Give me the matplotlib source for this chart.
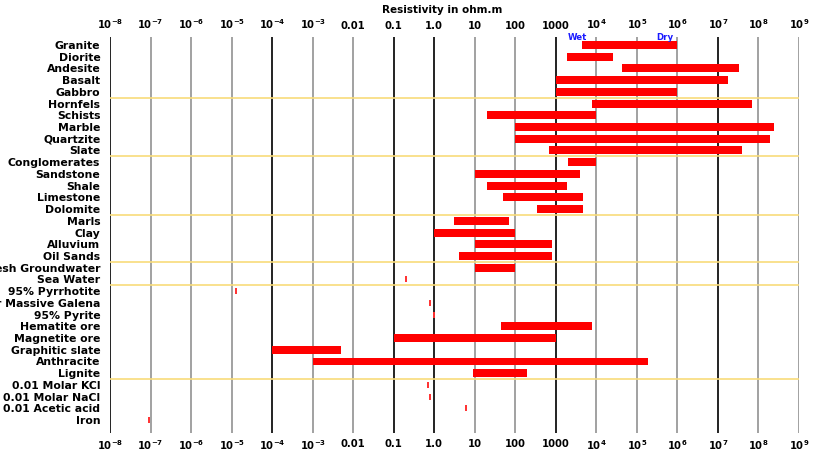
import numpy as np
import matplotlib
matplotlib.use("Agg")
import matplotlib.pyplot as plt

# rows from top to bottom
materials = [
    "Granite", "Diorite", "Andesite", "Basalt", "Gabbro",
    "Hornfels", "Schists", "Marble", "Quartzite", "Slate",
    "Conglomerates", "Sandstone", "Shale", "Limestone", "Dolomite",
    "Marls", "Clay", "Alluvium", "Oil Sands",
    "Fresh Groundwater", "Sea Water",
    "95% Pyrrhotite", "Poor Massive Galena", "95% Pyrite", "Hematite ore",
    "Magnetite ore", "Graphitic slate", "Anthracite", "Lignite",
    "0.01 Molar KCl", "0.01 Molar NaCl", "0.01 Acetic acid", "Iron",
]

# resistivity range in ohm.m (low == high means a single value)
res_low = [
    4.5e3, 1.9e3, 4.2e4, 1e3, 1e3,
    8e3, 20, 100, 100, 690,
    2e3, 10, 20, 50, 350,
    3, 1, 10, 4,
    10, 0.2,
    1.3e-5, 0.77, 0.97, 45,
    0.1, 1e-4, 1e-3, 9,
    0.7, 0.8, 6, 9e-8,
]
res_high = [
    1e6, 2.6e4, 3.4e7, 1.8e7, 1e6,
    6.8e7, 1e4, 2.4e8, 1.9e8, 3.9e7,
    1e4, 3.9e3, 1.9e3, 4.8e3, 4.8e3,
    70, 100, 800, 800,
    100, 0.2,
    1.3e-5, 0.77, 0.97, 7.7e3,
    1000, 5e-3, 1.9e5, 200,
    0.7, 0.8, 6, 9e-8,
]

# group separators (after these row indices)
group_breaks = [4, 9, 14, 18, 20, 28]

decades = list(range(-8, 10))
decade_labels = [
    r"$10^{-8}$", r"$10^{-7}$", r"$10^{-6}$", r"$10^{-5}$", r"$10^{-4}$",
    r"$10^{-3}$", "0.01", "0.1", "1.0", "10", "100", "1000",
    r"$10^{4}$", r"$10^{5}$", r"$10^{6}$", r"$10^{7}$", r"$10^{8}$", r"$10^{9}$",
]
dark_decades = [-8, -4, -1, 0, 3, 7]

plt.rcParams["font.family"] = "DejaVu Sans"
plt.rcParams["font.weight"] = "bold"
plt.rcParams["mathtext.fontset"] = "dejavusans"
plt.rcParams["mathtext.default"] = "bf"

fig = plt.figure(figsize=(8.14, 4.54), dpi=100)
ax = fig.add_axes([110 / 814, 1 - 433 / 454, 689 / 814, 396 / 454])
ax.set_xscale("log")
ax.set_xlim(1e-8, 1e9)
ax.set_ylim(33.1, -0.68)

for k in decades:
    color = "#111111" if k in dark_decades else "#9a9a9a"
    ax.axvline(10.0 ** k, color=color, lw=1.3, zorder=1)

for b in group_breaks:
    ax.axhline(b + 0.5, color="#f8dc7a", lw=1.2, zorder=1)

rows = np.arange(len(materials))
low = np.array(res_low)
high = np.array(res_high)
ranged = high > low
ax.barh(rows[ranged], high[ranged] - low[ranged], left=low[ranged],
        height=0.68, color="#ff0000", zorder=3)
ax.plot(low[~ranged], rows[~ranged], linestyle="none", marker="|",
        markersize=5, markeredgewidth=1.4, color="#ff3030", zorder=3)

ax.text(3.5e3, -0.62, "Wet", color="#1a1aff", fontsize=6.2, ha="center",
        va="center", clip_on=False, zorder=4)
ax.text(5.0e5, -0.62, "Dry", color="#1a1aff", fontsize=6.2, ha="center",
        va="center", clip_on=False, zorder=4)

ax.set_yticks(rows)
ax.set_yticklabels(materials, fontsize=7.8)
ax.set_xticks([10.0 ** k for k in decades])
ax.set_xticklabels(decade_labels, fontsize=7.2)
ax.xaxis.set_minor_locator(matplotlib.ticker.NullLocator())
ax.tick_params(axis="x", top=True, labeltop=True, bottom=True, labelbottom=True,
               length=0, pad=4)
ax.tick_params(axis="y", length=0, pad=7)
for side in ["top", "bottom", "left", "right"]:
    ax.spines[side].set_visible(False)

fig.text(442 / 814, 1 - 10 / 454, "Resistivity in ohm.m", fontsize=7.5,
         ha="center", va="center")

fig.savefig("out.png", dpi=100)
